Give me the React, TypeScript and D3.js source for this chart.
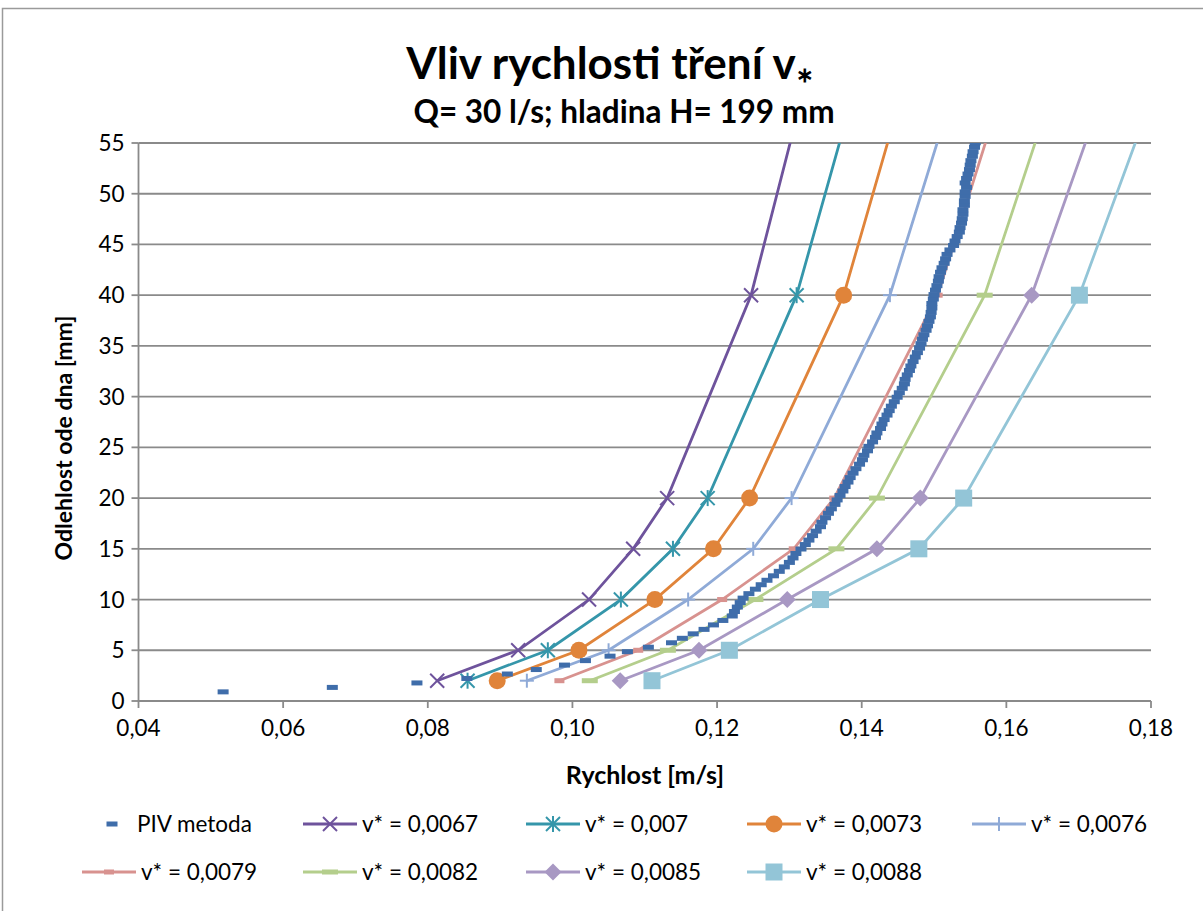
import React from 'react';
import * as d3 from 'd3';

// ---------- data ----------
const PIV_Y = [
  0.90, 1.34, 1.78, 2.22, 2.66, 3.10, 3.54, 3.98, 4.42, 4.86,
  5.30, 5.74, 6.18, 6.62, 7.06, 7.50, 7.94, 8.38, 8.82, 9.26,
  9.70, 10.14, 10.58, 11.02, 11.46, 11.90, 12.34, 12.78, 13.22, 13.66,
  14.10, 14.54, 14.98, 15.42, 15.86, 16.30, 16.74, 17.18, 17.62, 18.06,
  18.50, 18.94, 19.38, 19.82, 20.26, 20.70, 21.14, 21.58, 22.02, 22.46,
  22.90, 23.34, 23.78, 24.22, 24.66, 25.10, 25.54, 25.98, 26.42, 26.86,
  27.30, 27.74, 28.18, 28.62, 29.06, 29.50, 29.94, 30.38, 30.82, 31.26,
  31.70, 32.14, 32.58, 33.02, 33.46, 33.90, 34.34, 34.78, 35.22, 35.66,
  36.10, 36.54, 36.98, 37.42, 37.86, 38.30, 38.74, 39.18, 39.62, 40.06,
  40.50, 40.94, 41.38, 41.82, 42.26, 42.70, 43.14, 43.58, 44.02, 44.46,
  44.90, 45.34, 45.78, 46.22, 46.66, 47.10, 47.54, 47.98, 48.42, 48.86,
  49.30, 49.74, 50.18, 50.62, 51.06, 51.50, 51.94, 52.38, 52.82, 53.26,
  53.70, 54.14, 54.58, 55.02,
];
const PIV_V = [
  0.0517, 0.0668, 0.0785, 0.0854, 0.0910, 0.0950, 0.0989, 0.1018, 0.1052, 0.1076,
  0.1105, 0.1137, 0.1152, 0.1167, 0.1182, 0.1195, 0.1208, 0.1221, 0.1224, 0.1228,
  0.1232, 0.1236, 0.1244, 0.1253, 0.1261, 0.1269, 0.1278, 0.1286, 0.1293, 0.1300,
  0.1305, 0.1309, 0.1316, 0.1322, 0.1327, 0.1332, 0.1337, 0.1343, 0.1345, 0.1350,
  0.1354, 0.1358, 0.1363, 0.1366, 0.1370, 0.1374, 0.1377, 0.1381, 0.1384, 0.1388,
  0.1392, 0.1397, 0.1401, 0.1403, 0.1408, 0.1410, 0.1415, 0.1419, 0.1421, 0.1426,
  0.1428, 0.1431, 0.1435, 0.1438, 0.1441, 0.1445, 0.1449, 0.1452, 0.1456, 0.1459,
  0.1460, 0.1463, 0.1466, 0.1468, 0.1471, 0.1474, 0.1477, 0.1480, 0.1482, 0.1484,
  0.1486, 0.1489, 0.1491, 0.1493, 0.1495, 0.1496, 0.1497, 0.1497, 0.1499, 0.1500,
  0.1502, 0.1504, 0.1506, 0.1507, 0.1509, 0.1511, 0.1514, 0.1516, 0.1518, 0.1522,
  0.1527, 0.1529, 0.1532, 0.1535, 0.1536, 0.1538, 0.1539, 0.1540, 0.1540, 0.1542,
  0.1542, 0.1543, 0.1543, 0.1545, 0.1543, 0.1545, 0.1547, 0.1549, 0.1550, 0.1551,
  0.1553, 0.1554, 0.1556, 0.1557,
];

const MODEL_Y = [2, 5, 10, 15, 20, 40, 60];
const V_0067 = [0.0813, 0.0925, 0.1023, 0.1084, 0.1131, 0.1247, 0.1319];
const V_0070 = [0.0855, 0.0966, 0.1067, 0.1139, 0.1187, 0.1310, 0.1389];
const V_0073 = [0.0896, 0.1009, 0.1114, 0.1195, 0.1245, 0.1375, 0.1456];
const V_0076 = [0.0937, 0.1050, 0.1160, 0.1250, 0.1303, 0.1439, 0.1526];
const V_0079 = [0.0982, 0.1091, 0.1207, 0.1306, 0.1362, 0.1505, 0.1593];
const V_0082 = [0.1024, 0.1132, 0.1253, 0.1365, 0.1421, 0.1570, 0.1663];
const V_0085 = [0.1066, 0.1175, 0.1297, 0.1421, 0.1481, 0.1635, 0.1734];
const V_0088 = [0.1110, 0.1217, 0.1343, 0.1479, 0.1541, 0.1701, 0.1804];

const MODEL_LABELS = ['v* = 0,0067', 'v* = 0,007', 'v* = 0,0073', 'v* = 0,0076',
  'v* = 0,0079', 'v* = 0,0082', 'v* = 0,0085', 'v* = 0,0088'];
const PIV_LABEL = 'PIV metoda';
const X_TICKS = [0.04, 0.06, 0.08, 0.10, 0.12, 0.14, 0.16, 0.18];
const Y_TICKS = [0, 5, 10, 15, 20, 25, 30, 35, 40, 45, 50, 55];
const TITLE = 'Vliv rychlosti tření v';
const SUBTITLE = 'Q= 30 l/s; hladina H= 199 mm';
const X_TITLE = 'Rychlost [m/s]';
const Y_TITLE = 'Odlehlost ode dna [mm]';

// ---------- styles ----------
const W = 1203, H = 911;
const PL = 138.5, PR = 1151, PT = 143, PB = 701;
const FONT = 'Lato, "Open Sans", sans-serif';
const TICK_FS = 22.5;
const LEG_FS = 22.5;
const PIV_COLOR = '#3F6DAA';
const MODELS = [
  { v: V_0067, color: '#6E539C', marker: 'x' },
  { v: V_0070, color: '#3596AA', marker: 'star' },
  { v: V_0073, color: '#E0843A', marker: 'circle' },
  { v: V_0076, color: '#8FAAD7', marker: 'plus' },
  { v: V_0079, color: '#D8928F', marker: 'dashS' },
  { v: V_0082, color: '#B4CE8C', marker: 'dashL' },
  { v: V_0085, color: '#A898C3', marker: 'diamond' },
  { v: V_0088, color: '#93C5D7', marker: 'square' },
];

function Marker({ type, cx, cy, color }: { type: string; cx: number; cy: number; color: string }) {
  const s = 7;
  switch (type) {
    case 'x':
      return <g stroke={color} strokeWidth={2}>
        <line x1={cx - s} y1={cy - s} x2={cx + s} y2={cy + s} />
        <line x1={cx - s} y1={cy + s} x2={cx + s} y2={cy - s} />
      </g>;
    case 'star':
      return <g stroke={color} strokeWidth={2}>
        <line x1={cx - s} y1={cy - s} x2={cx + s} y2={cy + s} />
        <line x1={cx - s} y1={cy + s} x2={cx + s} y2={cy - s} />
        <line x1={cx} y1={cy - s - 1} x2={cx} y2={cy + s + 1} />
      </g>;
    case 'circle':
      return <circle cx={cx} cy={cy} r={8.5} fill={color} />;
    case 'plus':
      return <g stroke={color} strokeWidth={2}>
        <line x1={cx - s} y1={cy} x2={cx + s} y2={cy} />
        <line x1={cx} y1={cy - s} x2={cx} y2={cy + s} />
      </g>;
    case 'dashS':
      return <rect x={cx - 5} y={cy - 2.5} width={10} height={5} fill={color} />;
    case 'dashL':
      return <rect x={cx - 8} y={cy - 2.5} width={16} height={5} fill={color} />;
    case 'diamond':
      return <path d={`M${cx},${cy - 8.5}L${cx + 8.5},${cy}L${cx},${cy + 8.5}L${cx - 8.5},${cy}Z`} fill={color} />;
    case 'square':
      return <rect x={cx - 8.5} y={cy - 8.5} width={17} height={17} fill={color} />;
    case 'piv':
      return <rect x={cx - 5.5} y={cy - 2.5} width={11} height={5} fill={color} />;
    default:
      return null;
  }
}

export default function App() {
  const x = d3.scaleLinear().domain([0.04, 0.18]).range([PL, PR]);
  const y = d3.scaleLinear().domain([0, 55]).range([PB, PT]);
  const line = d3.line<[number, number]>().x(d => x(d[0])).y(d => y(d[1]));
  const fmt = (v: number) => d3.format('.2f')(v).replace('.', ',');

  const legendRow1 = [
    { x: 82, label: PIV_LABEL, piv: true },
    { x: 303, idx: 0 }, { x: 526, idx: 1 }, { x: 747, idx: 2 }, { x: 972, idx: 3 },
  ];
  const legendRow2 = [
    { x: 82, idx: 4 }, { x: 303, idx: 5 }, { x: 526, idx: 6 }, { x: 747, idx: 7 },
  ];

  const renderLegendItem = (it: any, ly: number, key: string) => {
    if (it.piv) {
      return <g key={key}>
        <Marker type="piv" cx={it.x + 30} cy={ly} color={PIV_COLOR} />
        <text x={it.x + 55} y={ly + 8} fontSize={LEG_FS} fontFamily={FONT} fill="#000">{it.label}</text>
      </g>;
    }
    const m = MODELS[it.idx];
    return <g key={key}>
      <line x1={it.x} x2={it.x + 54} y1={ly} y2={ly} stroke={m.color} strokeWidth={3} />
      <Marker type={m.marker} cx={it.x + 27} cy={ly} color={m.color} />
      <text x={it.x + 59} y={ly + 8} fontSize={LEG_FS} fontFamily={FONT} fill="#000">{MODEL_LABELS[it.idx]}</text>
    </g>;
  };

  return (
    <svg width={W} height={H} style={{ position: 'absolute', left: 0, top: 0, background: '#fff' }}>
      <defs>
        <clipPath id="plot">
          <rect x={PL - 12} y={PT} width={PR - PL + 24} height={PB - PT + 12} />
        </clipPath>
      </defs>
      <rect x={0} y={0} width={W} height={H} fill="#fff" />
      {/* chart frame */}
      <path d={`M2.5,${H + 5}V8.5H${W + 5}`} fill="none" stroke="#9a9a9a" strokeWidth={1.5} />

      {/* title */}
      <text x={610} y={79} textAnchor="middle" fontFamily={FONT} fontWeight={700} fontSize={44} fill="#000">
        {TITLE}<tspan fontSize={21} dy={3}>∗</tspan>
      </text>
      <text x={624} y={123} textAnchor="middle" fontFamily={FONT} fontWeight={700} fontSize={31.5} fill="#000">{SUBTITLE}</text>

      {/* gridlines */}
      {Y_TICKS.filter(t => t > 0).map(t => (
        <line key={'g' + t} x1={PL} x2={PR} y1={y(t)} y2={y(t)} stroke="#8a8a8a" strokeWidth={1.8} />
      ))}
      {/* axes */}
      <line x1={PL} x2={PL} y1={PT} y2={PB} stroke="#8a8a8a" strokeWidth={1.8} />
      <line x1={PL} x2={PR} y1={PB} y2={PB} stroke="#8a8a8a" strokeWidth={1.8} />
      {Y_TICKS.map(t => (
        <g key={'yt' + t}>
          <line x1={PL - 7} x2={PL} y1={y(t)} y2={y(t)} stroke="#8a8a8a" strokeWidth={1.8} />
          <text x={PL - 14} y={y(t) + 8} textAnchor="end" fontFamily={FONT} fontSize={TICK_FS} fill="#000">{t}</text>
        </g>
      ))}
      {X_TICKS.map(t => (
        <g key={'xt' + t}>
          <line x1={x(t)} x2={x(t)} y1={PB} y2={PB + 7} stroke="#8a8a8a" strokeWidth={1.8} />
          <text x={x(t)} y={PB + 35} textAnchor="middle" fontFamily={FONT} fontSize={TICK_FS} fill="#000">{fmt(t)}</text>
        </g>
      ))}
      <text x={645} y={784} textAnchor="middle" fontFamily={FONT} fontWeight={700} fontSize={25} fill="#000">{X_TITLE}</text>
      <text transform={`translate(72,438) rotate(-90)`} textAnchor="middle" fontFamily={FONT} fontWeight={700} fontSize={23} fill="#000">{Y_TITLE}</text>

      {/* series */}
      <g clipPath="url(#plot)">
        {MODELS.map((m, i) => {
          const pts = MODEL_Y.map((yy, j) => [m.v[j], yy] as [number, number]);
          return <g key={'m' + i}>
            <path d={line(pts) || ''} fill="none" stroke={m.color} strokeWidth={2.8} />
            {pts.map((p, j) => <Marker key={j} type={m.marker} cx={x(p[0])} cy={y(p[1])} color={m.color} />)}
          </g>;
        })}
        {PIV_V.map((v, i) => <Marker key={'p' + i} type="piv" cx={x(v)} cy={y(PIV_Y[i])} color={PIV_COLOR} />)}
      </g>

      {/* legend */}
      {legendRow1.map((it, i) => renderLegendItem(it, 824, 'l1' + i))}
      {legendRow2.map((it, i) => renderLegendItem(it, 872, 'l2' + i))}
    </svg>
  );
}
